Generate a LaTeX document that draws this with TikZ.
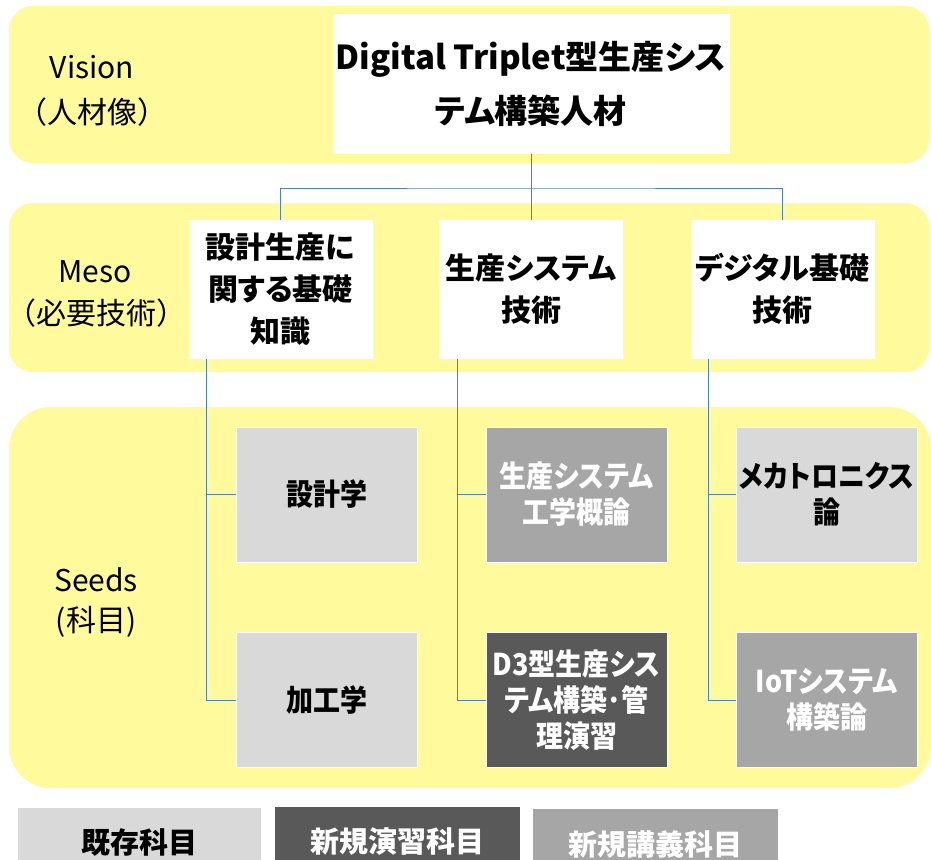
\documentclass[tikz,border=0pt]{standalone}
\usepackage{fontspec}
\setmainfont{Noto Sans CJK JP}
\newfontfamily\jpp{Noto Sans CJK JP}[RawFeature=+palt]
\newfontfamily\jpc{Noto Sans CJK JP}[RawFeature=+palt,FakeStretch=0.9]
\definecolor{bandyellow}{RGB}{255,250,155}
\definecolor{lightbox}{RGB}{217,217,217}
\definecolor{midbox}{RGB}{166,166,166}
\definecolor{darkbox}{RGB}{89,89,89}
\definecolor{connblue}{RGB}{79,129,189}
\begin{document}
\begin{tikzpicture}[x=1pt,y=-1pt,
  band/.style={fill=bandyellow},
  lbl/.style={inner sep=0pt,font=\fontsize{30}{36}\selectfont},
  boxbase/.style={rectangle,draw=white,line width=1pt,inner sep=0pt,align=center},
  visbox/.style={boxbase,fill=white,minimum width=396pt,minimum height=138pt,font=\jpp\bfseries\fontsize{33}{54}\selectfont},
  mesobox/.style={boxbase,fill=white,minimum width=183pt,minimum height=138pt,font=\jpp\bfseries\fontsize{30}{42}\selectfont},
  seedbox/.style={boxbase,minimum width=181pt,minimum height=135pt,font=\jpc\bfseries\fontsize{30}{36}\selectfont},
  exist/.style={seedbox,fill=lightbox,text=black},
  newlec/.style={seedbox,fill=midbox,text=white},
  newex/.style={seedbox,fill=darkbox,text=white},
  legbox/.style={boxbase,draw=none,minimum height=70pt,font=\jpp\bfseries\fontsize{29}{36}\selectfont},
  conn/.style={draw=connblue,line width=0.9pt}
]
\clip (0,0) rectangle (931,859);
\fill[white] (0,0) rectangle (931,859);
% bands
\fill[band,rounded corners=24pt] (9,6) rectangle (929,163);
\fill[band,rounded corners=24pt] (9,203) rectangle (929,372);
\fill[band,rounded corners=42pt] (9,407) rectangle (931,788);
% left labels
\node[lbl] (lv1) at (92,67) {Vision};
\node[lbl] (lv2) at (92,112) {（人材像）};
\node[lbl] (lm1) at (95,272) {Meso};
\node[lbl] (lm2) at (96,313) {（必要技術）};
\node[lbl] (ls1) at (96,580) {Seeds};
\node[lbl] (ls2) at (96,622) {(科目)};
% vision
\node[visbox] (vis) at (531,84) {Digital Triplet型生産シス\\テム構築人材};
% meso
\node[mesobox] (m1) at (280.5,289) {設計生産に\\関する基礎\\知識};
\node[mesobox] (m2) at (531,289) {生産システム\\技術};
\node[mesobox] (m3) at (782.5,289) {デジタル基礎\\技術};
% seeds
\node[exist] (s11) at (326.5,494.5) {設計学};
\node[exist] (s12) at (326.5,700) {加工学};
\node[newlec] (s21) at (576.5,494.5) {生産システム\\工学概論};
\node[newex] (s22) at (576.5,700) {D3型生産シス\\テム構築･管\\理演習};
\node[exist] (s31) at (826.5,494.5) {メカトロニクス\\論};
\node[newlec] (s32) at (826.5,700) {IoTシステム\\構築論};
% legend
\node[legbox,fill=lightbox,text=black,minimum width=243pt] (g1) at (139.5,843) {既存科目};
\node[legbox,fill=darkbox,text=white,minimum width=245pt] (g2) at (397.5,842) {新規演習科目};
\node[legbox,fill=midbox,text=white,minimum width=245pt] (g3) at (655.5,844) {新規講義科目};
% connectors top
\coordinate (hb) at (531,188);
\draw[conn] (vis.south) -- (hb);
\draw[conn] (m1.north) |- (hb) -| (m3.north);
\draw[conn] (m2.north) -- (hb);
% connectors lower
\coordinate (t1) at ([xshift=18pt]m1.south west);
\coordinate (t2) at ([xshift=18pt]m2.south west);
\coordinate (t3) at ([xshift=18pt]m3.south west);
\draw[conn] (t1) |- (s12.west);
\draw[conn] (t1 |- s11.west) -- (s11.west);
\draw[conn] (t2) |- (s22.west);
\draw[conn] (t2 |- s21.west) -- (s21.west);
\draw[conn] (t3) |- (s32.west);
\draw[conn] (t3 |- s31.west) -- (s31.west);
\end{tikzpicture}
\end{document}
